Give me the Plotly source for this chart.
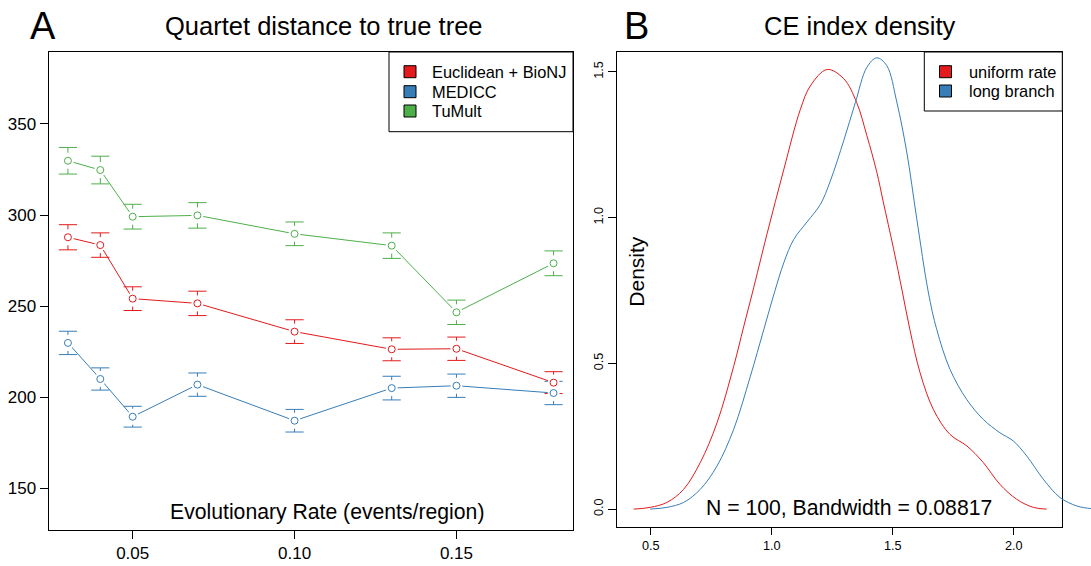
import plotly.graph_objects as go

W, H = 1091, 566
FONT = "Liberation Sans, Arial, Helvetica, sans-serif"

RED = "#E41A1C"
BLUE = "#377EB8"
GREEN = "#4DAF4A"

# ---------------- Panel A data ----------------
rates = [0.03, 0.04, 0.05, 0.07, 0.10, 0.13, 0.15, 0.18]
euclid_mean = [287.8, 283.5, 254.1, 251.5, 236.0, 226.3, 226.6, 208.0]
euclid_err = [6.9, 6.7, 6.5, 6.7, 6.5, 6.3, 6.4, 6.0]
medicc_mean = [229.8, 210.0, 189.3, 206.9, 187.1, 205.0, 206.3, 202.3]
medicc_err = [6.4, 6.1, 5.7, 6.4, 6.2, 6.5, 6.4, 6.4]
tumult_mean = [329.8, 324.7, 299.1, 299.8, 289.7, 283.2, 246.6, 273.5]
tumult_err = [7.3, 7.6, 6.8, 7.0, 6.5, 7.0, 6.7, 6.8]
series_names_A = ["Euclidean + BioNJ", "MEDICC", "TuMult"]
x_ticks_A = [0.05, 0.10, 0.15]
x_ticktext_A = ["0.05", "0.10", "0.15"]
y_ticks_A = [150, 200, 250, 300, 350]

# ---------------- Panel B data ----------------
uniform_x = [0.430, 0.498, 0.567, 0.636, 0.705, 0.774, 0.843, 0.884, 0.919, 0.981,
             1.050, 1.118, 1.160, 1.229, 1.298, 1.351, 1.393, 1.434, 1.461, 1.503,
             1.540, 1.571, 1.613, 1.668, 1.737, 1.806, 1.874, 1.943, 2.012, 2.081, 2.136]
uniform_y = [0.000, 0.006, 0.023, 0.068, 0.160, 0.296, 0.490, 0.625, 0.738, 0.945,
             1.165, 1.370, 1.452, 1.508, 1.476, 1.395, 1.282, 1.157, 1.054, 0.895,
             0.745, 0.616, 0.468, 0.342, 0.256, 0.217, 0.160, 0.085, 0.034, 0.006, 0.000]
longbr_x = [0.498, 0.567, 0.636, 0.705, 0.774, 0.843, 0.912, 0.967, 1.012, 1.050,
            1.091, 1.146, 1.201, 1.242, 1.298, 1.346, 1.393, 1.434, 1.475, 1.517,
            1.558, 1.599, 1.647, 1.682, 1.737, 1.806, 1.874, 1.943, 1.998, 2.054,
            2.122, 2.191, 2.260, 2.319, 2.380]
longbr_y = [0.000, 0.006, 0.023, 0.068, 0.148, 0.274, 0.456, 0.615, 0.745, 0.845,
            0.925, 0.985, 1.045, 1.125, 1.265, 1.395, 1.515, 1.548, 1.522, 1.396,
            1.225, 0.998, 0.745, 0.616, 0.479, 0.376, 0.308, 0.262, 0.234, 0.182,
            0.103, 0.040, 0.011, 0.002, 0.000]
series_names_B = ["uniform rate", "long branch"]
x_ticks_B = [0.5, 1.0, 1.5, 2.0]
x_ticktext_B = ["0.5", "1.0", "1.5", "2.0"]
y_ticks_B = [0.0, 0.5, 1.0, 1.5]
y_ticktext_B = ["0.0", "0.5", "1.0", "1.5"]


def px(p):
    return p / W


def py(p):
    return 1 - p / H


# layout geometry (pixels)
A_left, A_right, A_top, A_bottom = 48.5, 573.0, 52.0, 530.0
B_left, B_right, B_top, B_bottom = 617.3, 1062.3, 52.0, 526.7
A_xrange = [0.024, 0.186]
A_yrange = [127.1, 389.5]
B_xrange = [0.362, 2.2008]
B_yrange = [-0.0603, 1.568]

fig = go.Figure()

# ---------------- Panel A traces ----------------
ppu_y = (A_bottom - A_top) / (A_yrange[1] - A_yrange[0])
gap = 8.0 / ppu_y  # data units of the gap around each point

A_series = [
    (euclid_mean, euclid_err, RED),
    (medicc_mean, medicc_err, BLUE),
    (tumult_mean, tumult_err, GREEN),
]

for mean, err, col in A_series:
    fig.add_trace(go.Scatter(x=rates, y=mean, mode="lines",
                             line=dict(color=col, width=1),
                             xaxis="x", yaxis="y", showlegend=False, hoverinfo="skip"))
    sx, sy = [], []
    for x, m, e in zip(rates, mean, err):
        if e > gap:
            sx += [x, x, None, x, x, None]
            sy += [m + e, m + gap, None, m - e, m - gap, None]
    fig.add_trace(go.Scatter(x=sx, y=sy, mode="lines",
                             line=dict(color=col, width=1),
                             xaxis="x", yaxis="y", showlegend=False, hoverinfo="skip"))
    fig.add_trace(go.Scatter(x=rates + rates,
                             y=[m + e for m, e in zip(mean, err)] + [m - e for m, e in zip(mean, err)],
                             mode="markers",
                             marker=dict(symbol="line-ew", size=13, color=col,
                                         line=dict(color=col, width=1)),
                             xaxis="x", yaxis="y", showlegend=False, hoverinfo="skip"))

for mean, err, col in A_series:
    fig.add_trace(go.Scatter(x=rates, y=mean, mode="markers",
                             marker=dict(symbol="circle", size=12, color="white",
                                         line=dict(width=0)),
                             xaxis="x", yaxis="y", showlegend=False, hoverinfo="skip"))
for mean, err, col in A_series:
    fig.add_trace(go.Scatter(x=rates, y=mean, mode="markers",
                             marker=dict(symbol="circle-open", size=7, color=col,
                                         line=dict(color=col, width=1)),
                             xaxis="x", yaxis="y", showlegend=False, name="",
                             hoverinfo="skip"))

# ---------------- Panel B traces ----------------
fig.add_trace(go.Scatter(x=uniform_x, y=uniform_y, mode="lines",
                         line=dict(color=RED, width=1, shape="spline", smoothing=1.0),
                         xaxis="x2", yaxis="y2", showlegend=False, hoverinfo="skip"))
# the long-branch curve runs past the right frame in the original, so it is drawn
# on an invisible overlay axis with the same scale that extends to the page edge
fig.add_trace(go.Scatter(x=longbr_x, y=longbr_y, mode="lines",
                         line=dict(color=BLUE, width=1, shape="spline", smoothing=1.0),
                         xaxis="x3", yaxis="y3", showlegend=False, hoverinfo="skip"))

d0, d1 = px(B_left), px(B_right)
x3_max = B_xrange[0] + (B_xrange[1] - B_xrange[0]) * (1.0 - d0) / (d1 - d0)

axis_common = dict(showgrid=False, zeroline=False, showline=True, mirror=True,
                   linecolor="black", linewidth=1, ticks="outside",
                   tickcolor="black", tickwidth=1)

fig.update_layout(
    width=W, height=H,
    margin=dict(l=0, r=0, t=0, b=0),
    paper_bgcolor="white", plot_bgcolor="rgba(0,0,0,0)",
    font=dict(family=FONT, color="black"),
    xaxis=dict(domain=[px(A_left), px(A_right)], range=A_xrange, anchor="y",
               tickvals=x_ticks_A, ticktext=x_ticktext_A, ticklen=8,
               tickfont=dict(size=17), **axis_common),
    yaxis=dict(domain=[py(A_bottom), py(A_top)], range=A_yrange, anchor="x",
               tickvals=y_ticks_A, ticklen=8, tickfont=dict(size=17), **axis_common),
    xaxis2=dict(domain=[d0, d1], range=B_xrange, anchor="y2",
                tickvals=x_ticks_B, ticktext=x_ticktext_B, ticklen=7,
                tickfont=dict(size=12.7), **axis_common),
    yaxis2=dict(domain=[py(B_bottom), py(B_top)], range=B_yrange, anchor="x2",
                tickvals=y_ticks_B, ticktext=y_ticktext_B, ticklen=8, tickangle=-90,
                tickfont=dict(size=12.7), **axis_common),
    xaxis3=dict(domain=[d0, 1.0], range=[B_xrange[0], x3_max], anchor="y3",
                visible=False, showgrid=False, zeroline=False),
    yaxis3=dict(domain=[py(B_bottom), py(B_top)], range=B_yrange, anchor="x3",
                visible=False, showgrid=False, zeroline=False),
)

shapes = []
annotations = []

def text(x, y, s, size, xanchor="center", angle=0):
    annotations.append(dict(x=px(x), y=py(y), xref="paper", yref="paper", text=s,
                            showarrow=False, xanchor=xanchor, yanchor="middle",
                            textangle=angle, font=dict(size=size, family=FONT, color="black")))

# panel letters and titles
text(43, 26, "A", 38)
text(636, 26, "B", 38)
text(324, 26, "Quartet distance to true tree", 25.5)
text(860, 26, "CE index density", 25.5)
text(327, 511.7, "Evolutionary Rate (events/region)", 21.2)
text(849, 507.3, "N = 100, Bandwidth = 0.08817", 21.2)
text(637, 271.7, "Density", 21, angle=-90)

# legends
def legend(box, entries, sq_cx, text_x):
    x0, y0, x1, y1 = box
    shapes.append(dict(type="rect", xref="paper", yref="paper",
                       x0=px(x0), x1=px(x1), y0=py(y1), y1=py(y0),
                       line=dict(color="black", width=1), fillcolor="white", layer="above"))
    for (name, col, yy) in entries:
        shapes.append(dict(type="rect", xref="paper", yref="paper",
                           x0=px(sq_cx - 6), x1=px(sq_cx + 6), y0=py(yy + 6), y1=py(yy - 6),
                           line=dict(color="black", width=1), fillcolor=col, layer="above"))
        text(text_x, yy, name, 16.4, xanchor="left")

legend((389, 52, 573, 131.7),
       list(zip(series_names_A, [RED, BLUE, GREEN], [71.7, 91.7, 111.0])),
       410, 430)
legend((924.3, 52, 1062.3, 111),
       list(zip(series_names_B, [RED, BLUE], [71.7, 91.0])),
       945.5, 966.7)

fig.update_layout(shapes=shapes, annotations=annotations)

fig.write_html("out.html", config={"displayModeBar": False},
               post_script="document.body.style.margin='0px';document.body.style.padding='0px';")
